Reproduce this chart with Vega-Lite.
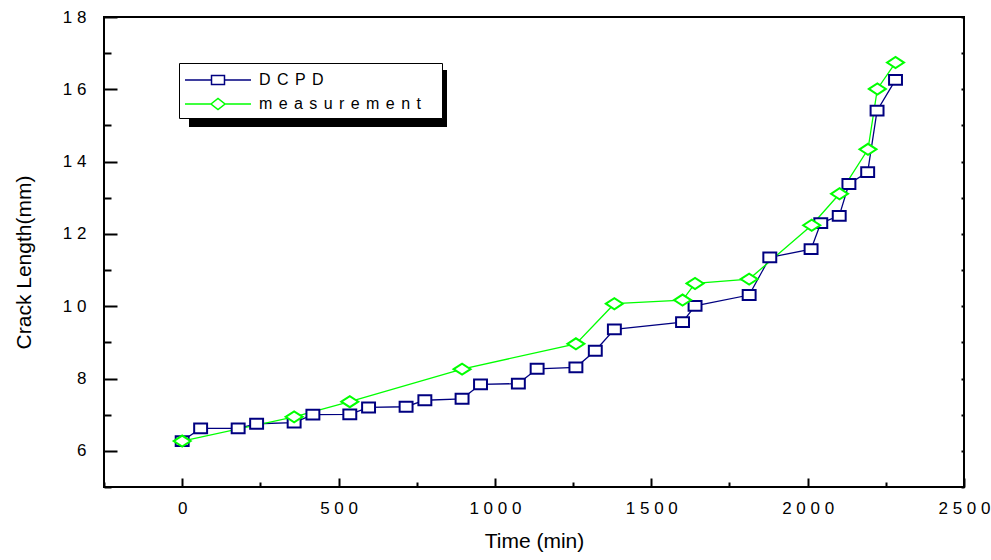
{
  "$schema": "https://vega.github.io/schema/vega-lite/v6.json",
  "width": 860,
  "height": 470,
  "autosize": "none",
  "padding": {"left": 104, "top": 17, "right": 27, "bottom": 73},
  "background": "white",
  "config": {
    "view": {"stroke": "black", "strokeWidth": 2},
    "font": "Liberation Sans",
    "axis": {"domain": false, "grid": false, "tickColor": "black", "tickWidth": 2, "labelColor": "black", "titleColor": "black", "labelFont": "Liberation Sans", "titleFont": "Liberation Sans", "titleFontWeight": "normal"}
  },
  "data": {"values": [
    {"series": "DCPD", "t": 0, "v": 6.27},
    {"series": "DCPD", "t": 59, "v": 6.62},
    {"series": "DCPD", "t": 179, "v": 6.62},
    {"series": "DCPD", "t": 238, "v": 6.75},
    {"series": "DCPD", "t": 358, "v": 6.78},
    {"series": "DCPD", "t": 418, "v": 7.0},
    {"series": "DCPD", "t": 536, "v": 7.01},
    {"series": "DCPD", "t": 596, "v": 7.2},
    {"series": "DCPD", "t": 716, "v": 7.22},
    {"series": "DCPD", "t": 776, "v": 7.4},
    {"series": "DCPD", "t": 895, "v": 7.44},
    {"series": "DCPD", "t": 954, "v": 7.84},
    {"series": "DCPD", "t": 1075, "v": 7.86},
    {"series": "DCPD", "t": 1135, "v": 8.27},
    {"series": "DCPD", "t": 1259, "v": 8.31},
    {"series": "DCPD", "t": 1321, "v": 8.77},
    {"series": "DCPD", "t": 1382, "v": 9.36},
    {"series": "DCPD", "t": 1600, "v": 9.56},
    {"series": "DCPD", "t": 1640, "v": 10.01},
    {"series": "DCPD", "t": 1813, "v": 10.31},
    {"series": "DCPD", "t": 1879, "v": 11.35},
    {"series": "DCPD", "t": 2011, "v": 11.58},
    {"series": "DCPD", "t": 2042, "v": 12.3},
    {"series": "DCPD", "t": 2101, "v": 12.5},
    {"series": "DCPD", "t": 2132, "v": 13.38},
    {"series": "DCPD", "t": 2192, "v": 13.71},
    {"series": "DCPD", "t": 2222, "v": 15.41},
    {"series": "DCPD", "t": 2281, "v": 16.26},
    {"series": "measurement", "t": 0, "v": 6.27},
    {"series": "measurement", "t": 358, "v": 6.94},
    {"series": "measurement", "t": 536, "v": 7.36},
    {"series": "measurement", "t": 895, "v": 8.26},
    {"series": "measurement", "t": 1259, "v": 8.96},
    {"series": "measurement", "t": 1382, "v": 10.07},
    {"series": "measurement", "t": 1600, "v": 10.17},
    {"series": "measurement", "t": 1640, "v": 10.63},
    {"series": "measurement", "t": 1813, "v": 10.75},
    {"series": "measurement", "t": 2013, "v": 12.24},
    {"series": "measurement", "t": 2102, "v": 13.11},
    {"series": "measurement", "t": 2193, "v": 14.34},
    {"series": "measurement", "t": 2223, "v": 16.01},
    {"series": "measurement", "t": 2281, "v": 16.74}
  ]},
  "layer": [
    {
      "mark": {"type": "line", "strokeWidth": 1.3},
      "encoding": {
        "x": {"field": "t", "type": "quantitative", "scale": {"domain": [-250, 2500], "nice": false, "zero": false},
          "axis": {"orient": "bottom", "values": [0, 500, 1000, 1500, 2000, 2500], "format": "d", "tickSize": -9, "labelPadding": 22, "labelFontSize": 17, "labelExpr": "join(split(datum.label, ''), ' ')", "labelFlush": false, "labelOverlap": false, "title": "Time (min)", "titleFontSize": 21, "titleBaseline": "alphabetic", "titleY": 60}},
        "y": {"field": "v", "type": "quantitative", "scale": {"domain": [5, 18], "nice": false, "zero": false},
          "axis": {"orient": "left", "values": [6, 8, 10, 12, 14, 16, 18], "format": "d", "tickSize": -13, "labelPadding": 31, "labelFontSize": 17, "labelExpr": "join(split(datum.label, ''), ' ')", "labelFlush": false, "labelOverlap": false, "title": "Crack Length(mm)", "titleFontSize": 21, "titleX": -70, "titleY": 245}},
        "color": {"field": "series", "type": "nominal", "scale": {"range": ["#000080", "#00ff00"]}, "legend": null}
      }
    },
    {
      "transform": [{"filter": "datum.series == 'DCPD'"}],
      "mark": {"type": "point", "shape": "M-0.76,-0.58H0.76V0.58H-0.76Z", "size": 289, "filled": false, "fill": "white", "strokeWidth": 2, "opacity": 1},
      "encoding": {
        "x": {"field": "t", "type": "quantitative", "axis": {"orient": "bottom", "values": [-250, 250, 750, 1250, 1750, 2250], "tickSize": -5, "labels": false, "title": null}},
        "y": {"field": "v", "type": "quantitative", "axis": {"orient": "left", "values": [5, 7, 9, 11, 13, 15, 17], "tickSize": -7, "labels": false, "title": null}},
        "color": {"field": "series", "type": "nominal", "legend": null}
      }
    },
    {
      "transform": [{"filter": "datum.series == 'measurement'"}],
      "mark": {"type": "point", "shape": "M-1,0L0,-0.65L1,0L0,0.65Z", "size": 289, "filled": false, "fill": "white", "strokeWidth": 2, "opacity": 1},
      "encoding": {
        "x": {"field": "t", "type": "quantitative", "axis": null},
        "y": {"field": "v", "type": "quantitative", "axis": {"orient": "right", "values": [5, 6, 7, 8, 9, 10, 11, 12, 13, 14, 15, 16, 17, 18], "tickSize": -3, "labels": false, "title": null}},
        "color": {"field": "series", "type": "nominal", "legend": null}
      }
    },
    {
      "mark": {"type": "point", "filled": false, "strokeWidth": 1.5, "opacity": 0},
      "encoding": {
        "x": {"field": "t", "type": "quantitative", "axis": null},
        "y": {"field": "v", "type": "quantitative", "axis": null},
        "fill": {"field": "v", "type": "quantitative", "scale": {"range": ["black", "black"]},
          "legend": {"orient": "none", "direction": "horizontal", "legendX": 85, "legendY": 53, "gradientLength": 258, "gradientThickness": 57, "gradientOpacity": 1, "title": null, "labelExpr": "''", "labelOpacity": 0, "padding": 0, "gradientStrokeColor": "black", "gradientStrokeWidth": 0, "zindex": 1, "tickCount": 2}}
      }
    },
    {
      "mark": {"type": "point", "filled": false, "strokeWidth": 1.5, "opacity": 0},
      "encoding": {
        "x": {"field": "t", "type": "quantitative", "axis": null},
        "y": {"field": "v", "type": "quantitative", "axis": null},
        "size": {"value": 484},
        "shape": {"field": "series", "type": "nominal", "scale": {"domain": ["DCPD", "measurement"], "range": ["M-1,0H1.41M2.59,0H5M1.41,-0.41H2.59V0.41H1.41Z", "M-1,0H1.36M2.64,0H5M1.36,0L2,-0.5L2.64,0L2,0.5Z"]},
          "legend": {"orient": "none", "legendX": 75, "legendY": 46, "title": null, "padding": 5, "fillColor": "white", "strokeColor": "black", "labelFontSize": 16, "labelFont": "Liberation Sans", "labelColor": "black", "labelOffset": 51, "labelLimit": 400, "labelExpr": "join(split(datum.label, ''), '\u2009\u2009') + '\u2002\u2002\u200b'", "symbolSize": 484, "symbolStrokeWidth": 1.5, "symbolOpacity": 1, "symbolFillColor": "white", "rowPadding": 4, "zindex": 2}},
        "stroke": {"field": "series", "type": "nominal", "scale": {"domain": ["DCPD", "measurement"], "range": ["#000080", "#00ff00"]},
          "legend": {"orient": "none", "legendX": 75, "legendY": 46, "title": null, "padding": 5, "fillColor": "white", "strokeColor": "black", "labelFontSize": 16, "labelFont": "Liberation Sans", "labelColor": "black", "labelOffset": 51, "labelLimit": 400, "labelExpr": "join(split(datum.label, ''), '\u2009\u2009') + '\u2002\u2002\u200b'", "symbolSize": 484, "symbolStrokeWidth": 1.5, "symbolOpacity": 1, "symbolFillColor": "white", "rowPadding": 4, "zindex": 2}}
      }
    }
  ],
  "resolve": {"axis": {"x": "independent", "y": "independent"}}
}
